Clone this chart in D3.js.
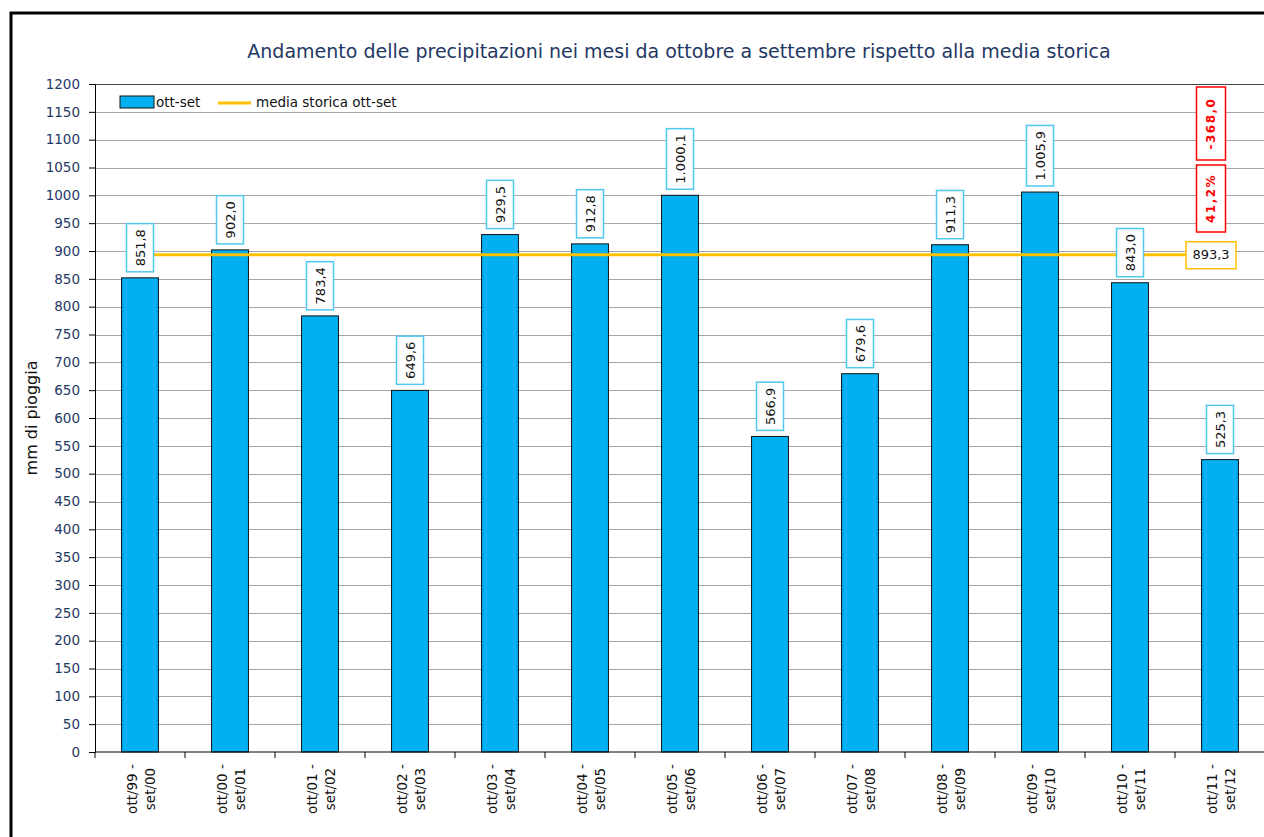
<!DOCTYPE html>
<html>
<head>
<meta charset="utf-8">
<script src="https://cdn.jsdelivr.net/npm/d3@7"></script>
<style>
  body { margin: 0; background: #fff; }
  svg { display: block; font-family: "DejaVu Sans", Verdana, sans-serif; }
</style>
</head>
<body>
<svg id="chart" width="1264" height="837"></svg>
<script>
// rainfall Oct-Sep, mm
const periods = [
  ['ott/99 -', 'set/00'], ['ott/00 -', 'set/01'], ['ott/01 -', 'set/02'],
  ['ott/02 -', 'set/03'], ['ott/03 -', 'set/04'], ['ott/04 -', 'set/05'],
  ['ott/05 -', 'set/06'], ['ott/06 -', 'set/07'], ['ott/07 -', 'set/08'],
  ['ott/08 -', 'set/09'], ['ott/09 -', 'set/10'], ['ott/10 -', 'set/11'],
  ['ott/11 -', 'set/12']
];
const rainfall = [851.8, 902.0, 783.4, 649.6, 929.5, 912.8, 1000.1, 566.9, 679.6, 911.3, 1005.9, 843.0, 525.3];
const historicMean = 893.3;
const diffLabels = ['-368,0', '41,2%'];
const yTicks = d3.range(0, 1201, 50);

const fmt = v => {
  const s = v.toFixed(1).split('.');
  const int = s[0].replace(/\B(?=(\d{3})+(?!\d))/g, '.');
  return int + ',' + s[1];
};

const svg = d3.select('#chart');
const plotL = 95, plotR = 1265, plotT = 84, plotB = 752;
const navy = '#1F3864';

const keys = periods.map(p => p.join(' '));
const x = d3.scaleBand().domain(keys).range([plotL, plotR])
  .paddingInner(0.59).paddingOuter(0.295);
const y = d3.scaleLinear().domain([0, 1200]).range([plotB, plotT]);

// outer chart frame
svg.append('rect')
  .attr('x', 11).attr('y', 13).attr('width', 1300).attr('height', 900)
  .attr('fill', 'none').attr('stroke', '#000').attr('stroke-width', 3);

// title
svg.append('text')
  .attr('x', 679).attr('y', 58)
  .attr('text-anchor', 'middle')
  .attr('font-size', 19).attr('fill', navy)
  .text('Andamento delle precipitazioni nei mesi da ottobre a settembre rispetto alla media storica');

// gridlines
svg.append('g').selectAll('line')
  .data(yTicks.filter(d => d > 0))
  .enter().append('line')
  .attr('x1', plotL).attr('x2', 1264)
  .attr('y1', d => Math.round(y(d)) + 0.5).attr('y2', d => Math.round(y(d)) + 0.5)
  .attr('stroke', d => d === 1200 ? '#444' : '#a6a6a6').attr('stroke-width', 1);

// y axis
const yAxis = svg.append('g')
  .attr('transform', `translate(${plotL},0)`)
  .call(d3.axisLeft(y).tickValues(yTicks).tickSize(6).tickPadding(9).tickFormat(d3.format('d')));
yAxis.select('.domain').attr('stroke', '#000');
yAxis.selectAll('.tick line').attr('stroke', '#000');
yAxis.selectAll('text').attr('font-size', 13.5).attr('fill', navy)
  .attr('font-family', '"DejaVu Sans", sans-serif');

svg.append('text')
  .attr('transform', `translate(37,${(plotT + plotB) / 2 + 0}) rotate(-90)`)
  .attr('text-anchor', 'middle').attr('font-size', 16).attr('fill', '#111')
  .text('mm di pioggia');

// bars
svg.append('g').selectAll('rect')
  .data(rainfall)
  .enter().append('rect')
  .attr('x', (d, i) => x(keys[i]))
  .attr('y', d => y(d))
  .attr('width', x.bandwidth())
  .attr('height', d => y(0) - y(d))
  .attr('fill', '#00B0F0').attr('stroke', '#111').attr('stroke-width', 1);

// x axis
const xAxis = svg.append('g')
  .attr('transform', `translate(0,${plotB})`);
xAxis.append('line').attr('x1', plotL).attr('x2', plotR).attr('stroke', '#000');
const step = x.step();
xAxis.selectAll('.tk')
  .data(d3.range(0, keys.length + 1))
  .enter().append('line')
  .attr('x1', i => plotL + i * step).attr('x2', i => plotL + i * step)
  .attr('y1', 0).attr('y2', 6).attr('stroke', '#000');

const xl = xAxis.selectAll('.xl')
  .data(periods)
  .enter().append('g')
  .attr('transform', (d, i) => `translate(${x(keys[i]) + x.bandwidth() / 2},${37}) rotate(-90)`);
xl.each(function (d) {
  const g = d3.select(this);
  d.forEach((line, j) => {
    g.append('text')
      .attr('x', 0).attr('y', j === 0 ? -3 : 15)
      .attr('text-anchor', 'middle')
      .attr('font-size', 13.5).attr('fill', '#111')
      .text(line);
  });
});

// mean line
const line = d3.line().x(d => d[0]).y(d => d[1]);
svg.append('path')
  .attr('d', line([[x(keys[0]) + x.bandwidth() / 2, y(historicMean)],
                   [x(keys[keys.length - 1]) + x.bandwidth() / 2, y(historicMean)]]))
  .attr('stroke', '#FFC000').attr('stroke-width', 3).attr('fill', 'none');

// value labels
const lab = svg.append('g').selectAll('g')
  .data(rainfall)
  .enter().append('g')
  .attr('transform', (d, i) => `translate(${x(keys[i]) + x.bandwidth() / 2},${y(d) - 6})`);
lab.each(function (d) {
  const g = d3.select(this);
  const r = g.append('rect');
  const t = g.append('text')
    .attr('transform', 'rotate(-90)')
    .attr('font-size', 13).attr('fill', '#111')
    .attr('dy', '0.35em')
    .text(fmt(d));
  const w = t.node().getComputedTextLength();
  const h = w + 11;
  t.attr('x', h / 2).attr('text-anchor', 'middle');
  r.attr('x', -13.5).attr('y', -h).attr('width', 27).attr('height', h)
    .attr('fill', '#fff').attr('stroke', '#4FC8F0').attr('stroke-width', 1.5);
});

// mean label
const lastX = x(keys[keys.length - 1]) + x.bandwidth() / 2 - 9;
const ml = svg.append('g').attr('transform', `translate(${lastX},${y(historicMean)})`);
ml.append('rect').attr('x', -25).attr('y', -13).attr('width', 50).attr('height', 27)
  .attr('fill', '#fff').attr('stroke', '#FFC000').attr('stroke-width', 1.5);
ml.append('text').attr('text-anchor', 'middle').attr('dy', '0.35em')
  .attr('font-size', 13).attr('fill', '#111').text(fmt(historicMean));

// difference labels (red)
const redTop = [87, 165];
const redH = [73, 67];
diffLabels.forEach((s, i) => {
  const g = svg.append('g').attr('transform', `translate(${lastX},0)`);
  g.append('rect').attr('x', -14.5).attr('y', redTop[i]).attr('width', 29).attr('height', redH[i])
    .attr('fill', '#fff').attr('stroke', '#FF0000').attr('stroke-width', 1.5);
  g.append('text')
    .attr('transform', `translate(0,${redTop[i] + redH[i] / 2}) rotate(-90)`)
    .attr('text-anchor', 'middle').attr('dy', '0.35em')
    .attr('font-size', 12).attr('font-weight', 'bold').attr('fill', '#FF0000')
    .attr('letter-spacing', 1.5)
    .text(s);
});

// legend
const lg = svg.append('g');
lg.append('rect').attr('x', 120).attr('y', 96).attr('width', 34).attr('height', 12)
  .attr('fill', '#00B0F0').attr('stroke', '#111');
lg.append('text').attr('x', 156).attr('y', 107).attr('font-size', 13.5).attr('fill', '#111').text('ott-set');
lg.append('line').attr('x1', 218).attr('x2', 251).attr('y1', 103).attr('y2', 103)
  .attr('stroke', '#FFC000').attr('stroke-width', 3);
lg.append('text').attr('x', 256).attr('y', 107).attr('font-size', 13.5).attr('fill', '#111').text('media storica ott-set');
</script>
</body>
</html>
